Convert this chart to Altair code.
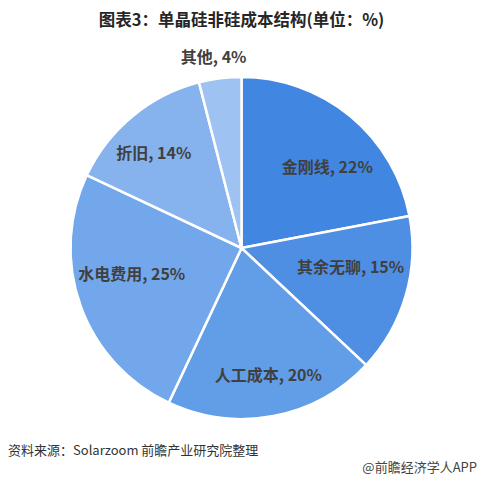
import altair as alt
import pandas as pd

categories = ["金刚线", "其余无聊", "人工成本", "水电费用", "折旧", "其他"]
values = [22, 15, 20, 25, 14, 4]
colors = ["#4186E0", "#4F8FE3", "#629EE7", "#72A7EB", "#86B3EE", "#9EC3F3"]

title_text = "图表3：单晶硅非硅成本结构(单位：%)"
source_text = "资料来源：Solarzoom 前瞻产业研究院整理"
brand_text = "@前瞻经济学人APP"

df = pd.DataFrame({
    "cat": categories,
    "val": values,
    "idx": list(range(len(categories))),
})
df["label"] = [f"{c}, {v}%" for c, v in zip(categories, values)]

FONT = "Noto Sans CJK SC"
CX, CY = 233.5, 240
R = 171

base = alt.Chart(df).encode(
    theta=alt.Theta("val:Q", stack=True),
    order=alt.Order("idx:Q", sort="ascending"),
)

pie = base.mark_arc(stroke="white", strokeWidth=2.5, outerRadius=R).encode(
    color=alt.Color("cat:N", scale=alt.Scale(domain=categories, range=colors), legend=None),
    x=alt.value(CX),
    y=alt.value(CY),
)

# per-label fine offsets (styling) to match placement
offsets = {
    "金刚线": (122, 8, 14),
    "其余无聊": (122, -8, -14),
    "人工成本": (122, 4, 8),
    "水电费用": (122, 5, -14),
    "折旧": (122, -10, 0),
    "其他": (190, -4, -1),
}

label_layers = []
for c in categories:
    r, ddx, ddy = offsets[c]
    lyr = base.mark_text(
        radius=r, dx=ddx, dy=ddy, font=FONT, fontSize=16, fontWeight="bold",
        color="#404040", align="center", baseline="middle",
    ).encode(
        text=alt.condition(alt.datum.cat == c, alt.Text("label:N"), alt.value("")),
        x=alt.value(CX),
        y=alt.value(CY),
    )
    label_layers.append(lyr)

txt_df = pd.DataFrame({"t": [title_text, source_text, brand_text]})

title = alt.Chart(txt_df).transform_filter(alt.datum.t == title_text).mark_text(
    font=FONT, fontSize=16.5, fontWeight="bold", color="#262626", align="center", baseline="middle"
).encode(text="t:N", x=alt.value(233.5), y=alt.value(13))

source = alt.Chart(txt_df).transform_filter(alt.datum.t == source_text).mark_text(
    font=FONT, fontSize=13, color="#333333", align="left", baseline="middle"
).encode(text="t:N", x=alt.value(0), y=alt.value(443))

brand = alt.Chart(txt_df).transform_filter(alt.datum.t == brand_text).mark_text(
    font=FONT, fontSize=13, color="#444444", align="right", baseline="middle"
).encode(text="t:N", x=alt.value(469), y=alt.value(460))

chart = alt.layer(pie, *label_layers, title, source, brand).properties(
    width=469, height=467,
    autosize=alt.AutoSizeParams(type="none"),
    padding=0,
    background="white",
).configure_view(stroke=None)

chart.save("out.html", embed_options={"renderer": "svg", "actions": False})
